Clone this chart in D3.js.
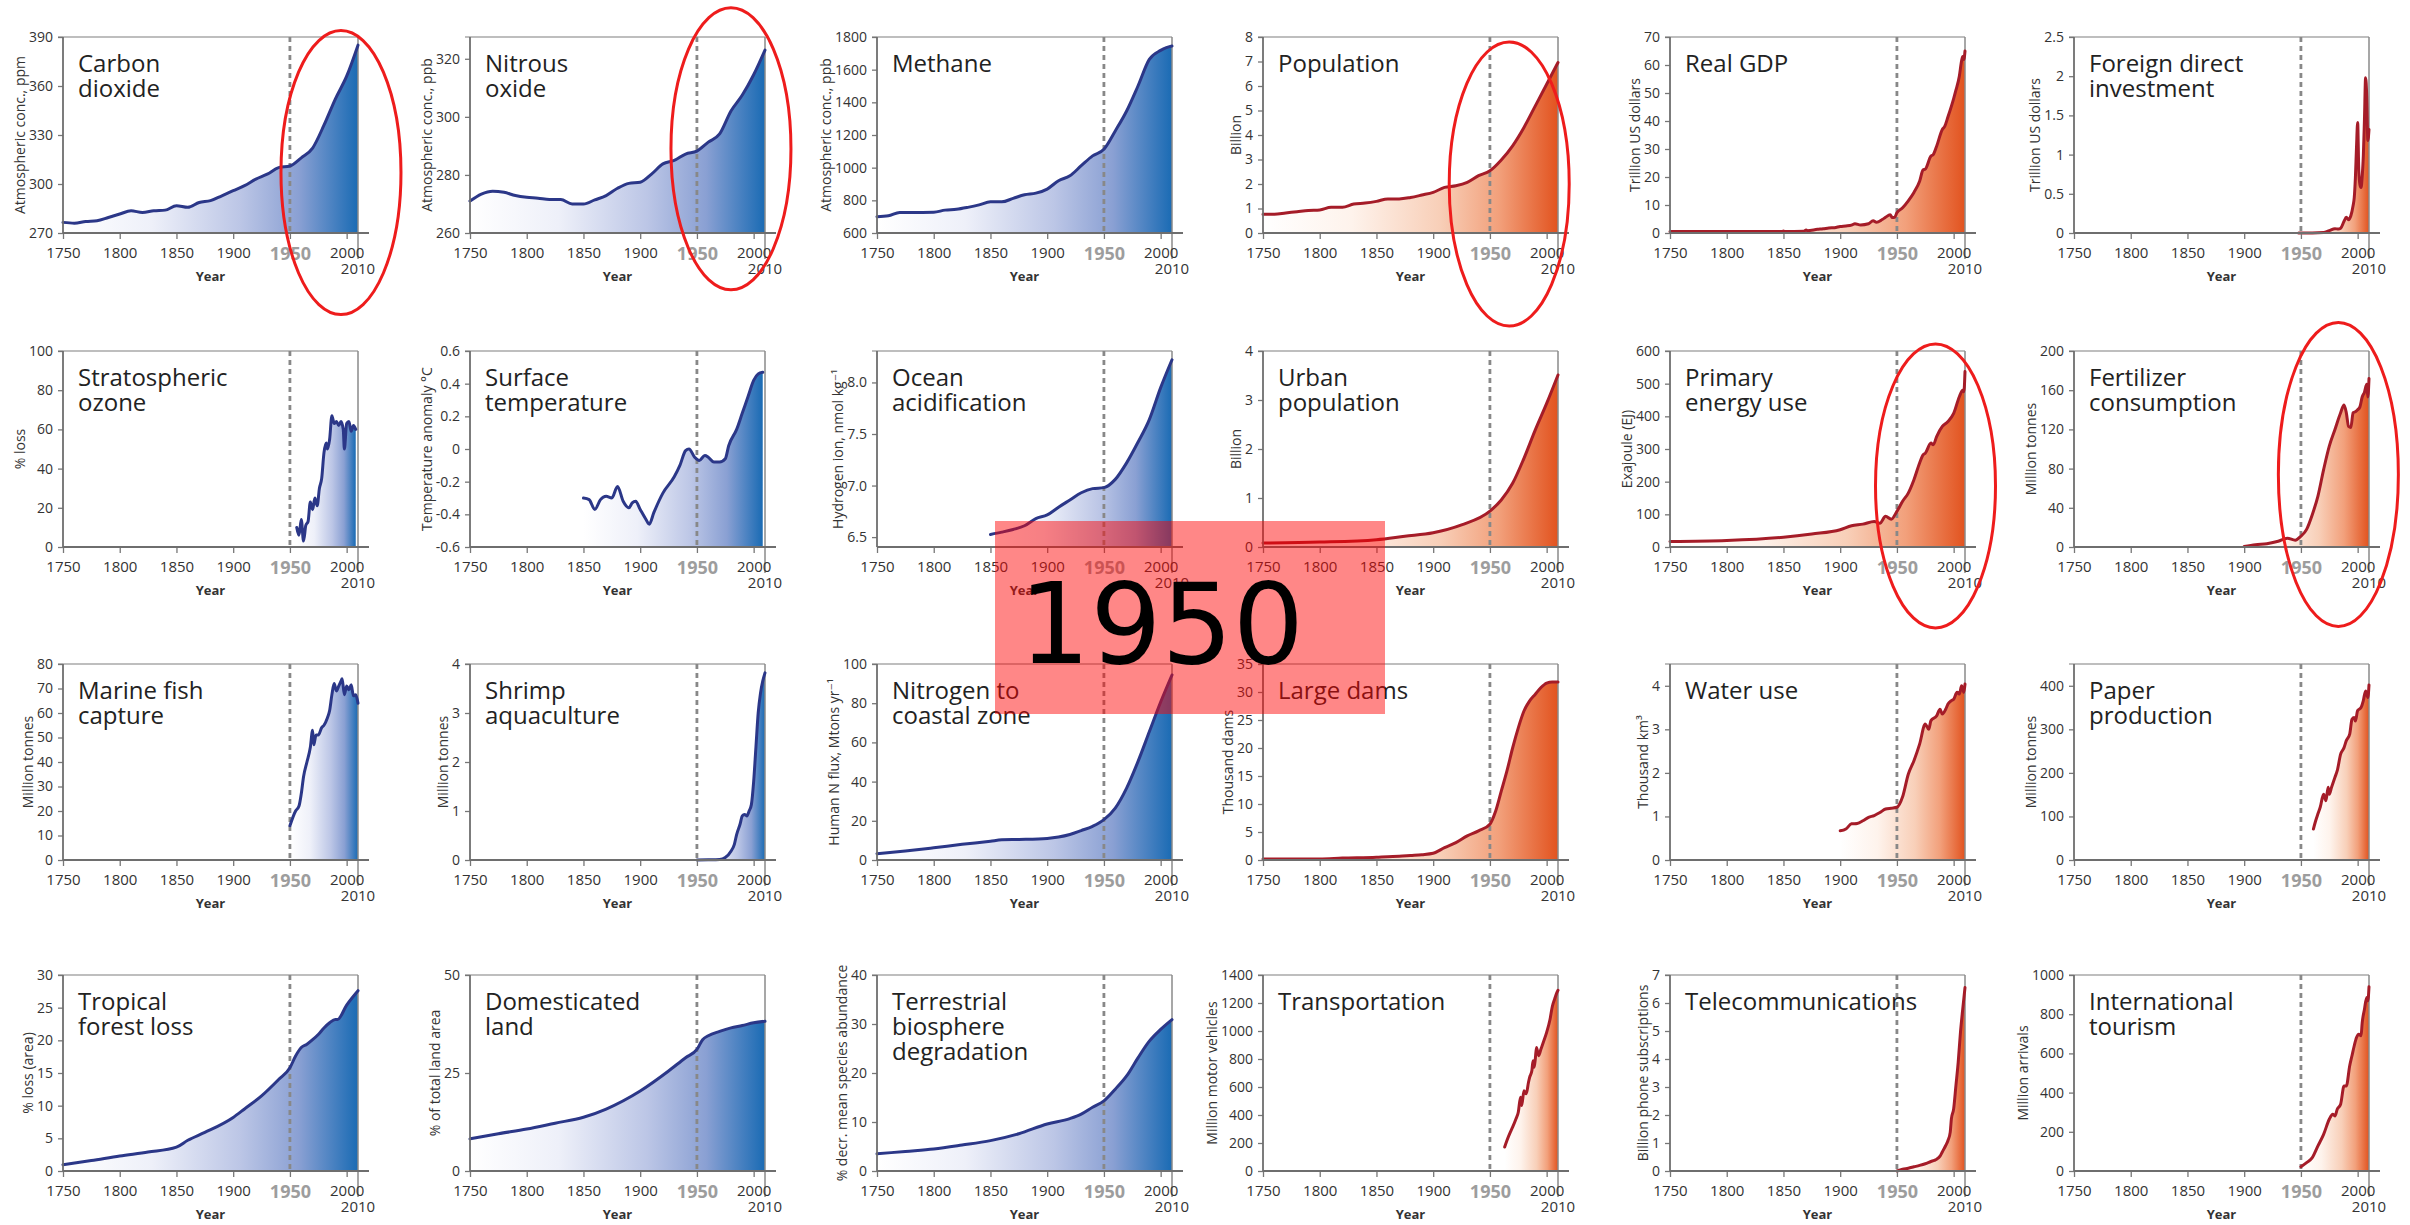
<!DOCTYPE html>
<html>
<head>
<meta charset="utf-8">
<script src="https://cdn.jsdelivr.net/npm/d3@7"></script>
<style>
  body { margin: 0; background: #fff; }
</style>
</head>
<body>
<div id="chart-area"></div>
<script>
// ---- data: [year, value] ----
const co2 = [[1750,276.5],[1760,276],[1770,277],[1780,277.5],[1790,279.5],[1800,281.6],[1810,283.6],[1820,282.6],[1830,283.6],[1840,284],[1850,286.7],[1860,285.7],[1870,288.7],[1880,289.8],[1890,292.8],[1900,295.9],[1910,299],[1920,303],[1930,306],[1940,310],[1950,311],[1960,316],[1970,322],[1980,336],[1990,352],[2000,366],[2010,385]];
const n2o = [[1750,271],[1760,273.4],[1770,274.4],[1780,274],[1790,272.9],[1800,272.3],[1810,272],[1820,271.5],[1830,271.5],[1840,270],[1850,270],[1860,271.4],[1870,272.9],[1880,275.4],[1890,277.1],[1900,277.5],[1910,280.3],[1920,283.8],[1930,285],[1940,287.2],[1950,288.2],[1960,291.3],[1970,294.1],[1980,302],[1990,307.5],[2000,314.5],[2010,323]];
const methane = [[1750,700],[1760,705],[1770,726],[1780,726],[1790,726],[1800,727],[1810,740],[1820,745],[1830,757],[1840,772],[1850,791],[1860,791],[1870,812],[1880,834],[1890,844],[1900,869],[1910,920],[1920,950],[1930,1012],[1940,1072],[1950,1113],[1960,1225],[1970,1347],[1980,1500],[1990,1663],[2000,1718],[2005,1735],[2010,1745]];
const population = [[1750,0.77],[1760,0.77],[1770,0.82],[1780,0.87],[1790,0.92],[1800,0.94],[1810,1.05],[1820,1.05],[1830,1.18],[1840,1.22],[1850,1.29],[1860,1.39],[1870,1.39],[1880,1.45],[1890,1.55],[1900,1.66],[1910,1.86],[1920,1.93],[1930,2.07],[1940,2.34],[1950,2.54],[1960,2.98],[1970,3.56],[1980,4.31],[1990,5.19],[2000,6.07],[2010,6.96]];
const gdp = [[1750,0.5],[1800,0.5],[1849,0.5],[1850,0.7],[1851,0.5],[1868,0.6],[1870,1.1],[1871,0.8],[1880,1.3],[1885,1.5],[1890,1.8],[1895,1.9],[1900,2.3],[1905,2.5],[1910,2.8],[1913,3.3],[1918,2.9],[1925,3.3],[1929,4.4],[1932,3.8],[1937,4.8],[1940,5.6],[1944,6.5],[1946,5.5],[1948,5.6],[1950,7.2],[1955,9.0],[1960,11.5],[1965,14.5],[1970,18.5],[1973,22.5],[1975,22.8],[1980,27.5],[1982,28],[1985,31],[1990,37],[1992,38],[1995,41.5],[2000,48],[2002,51],[2005,56],[2007,61.5],[2008,63],[2009,62],[2010,65]];
const fdi = [[1948,0],[1960,0],[1970,0.005],[1975,0.03],[1980,0.055],[1983,0.05],[1985,0.06],[1988,0.15],[1990,0.2],[1992,0.17],[1994,0.22],[1996,0.35],[1997,0.45],[1998,0.7],[1999,1.1],[2000,1.41],[2001,0.8],[2002,0.62],[2003,0.58],[2004,0.72],[2005,0.98],[2006,1.45],[2007,1.98],[2008,1.75],[2009,1.18],[2010,1.32]];
const ozone = [[1956,10],[1958,6],[1960,14],[1962,3],[1964,11],[1966,13],[1968,23],[1970,19],[1972,25],[1974,21],[1976,30],[1978,35],[1980,48],[1982,53],[1983,50],[1985,55],[1987,67],[1989,63],[1991,64],[1993,62],[1995,64],[1997,60],[1998,50],[2000,63],[2002,64],[2004,59],[2006,62],[2008,60]];
const temperature = [[1850,-0.30],[1855,-0.31],[1860,-0.37],[1865,-0.31],[1870,-0.29],[1875,-0.30],[1880,-0.23],[1885,-0.32],[1890,-0.36],[1893,-0.33],[1896,-0.32],[1900,-0.37],[1905,-0.43],[1908,-0.46],[1912,-0.39],[1920,-0.27],[1930,-0.17],[1935,-0.10],[1940,-0.01],[1943,0.0],[1948,-0.05],[1952,-0.07],[1957,-0.04],[1960,-0.05],[1965,-0.08],[1970,-0.08],[1975,-0.06],[1978,0.02],[1985,0.12],[1990,0.22],[1995,0.32],[2000,0.42],[2004,0.46],[2008,0.47]];
const ocean = [[1850,6.526],[1860,6.548],[1870,6.574],[1880,6.61],[1890,6.68],[1900,6.715],[1910,6.79],[1920,6.86],[1930,6.93],[1940,6.97],[1950,6.98],[1960,7.06],[1970,7.22],[1980,7.42],[1990,7.64],[2000,7.95],[2010,8.22]];
const urban = [[1750,0.08],[1800,0.1],[1850,0.15],[1875,0.22],[1900,0.29],[1925,0.45],[1950,0.73],[1960,0.96],[1970,1.3],[1980,1.81],[1990,2.39],[2000,2.93],[2010,3.51]];
const energy = [[1750,17],[1800,20],[1850,30],[1875,40],[1900,53],[1910,65],[1920,70],[1930,78],[1935,73],[1940,94],[1945,85],[1950,109],[1955,140],[1960,165],[1965,206],[1970,257],[1973,282],[1975,287],[1980,318],[1982,313],[1985,338],[1990,369],[1995,384],[2000,409],[2005,460],[2008,480],[2009,475],[2010,537]];
const fertilizer = [[1900,0.5],[1910,2.4],[1920,3.4],[1930,5.8],[1938,9],[1945,7],[1950,11],[1955,18],[1960,33],[1965,52],[1970,79],[1975,103],[1980,120],[1985,137],[1988,145],[1990,137],[1992,123],[1994,122],[1996,137],[1998,138],[2000,140],[2002,143],[2004,153],[2006,158],[2008,166],[2009,153],[2010,172]];
const fish = [[1950,14],[1955,20],[1958,22],[1960,27],[1962,34],[1965,40],[1968,46],[1970,53],[1971,47],[1973,51],[1975,51],[1978,54],[1980,55],[1983,58],[1985,61],[1987,67.5],[1989,72],[1991,69],[1993,71],[1995,73],[1996,74],[1998,67.5],[2000,71],[2002,69.5],[2004,71.5],[2006,67],[2008,67.5],[2010,64]];
const shrimp = [[1950,0],[1960,0.003],[1970,0.01],[1975,0.05],[1980,0.18],[1983,0.32],[1985,0.52],[1988,0.73],[1990,0.9],[1992,0.93],[1994,0.9],[1996,1.0],[1998,1.13],[2000,1.6],[2002,2.3],[2004,3.0],[2006,3.4],[2008,3.65],[2010,3.82]];
const nitrogen = [[1750,3.2],[1775,4.6],[1800,6.25],[1825,8],[1850,9.6],[1860,10.3],[1875,10.5],[1900,11],[1910,11.7],[1920,13],[1930,15],[1940,17.2],[1950,20.6],[1960,26.5],[1970,36.7],[1980,50.2],[1990,65.4],[2000,80.6],[2010,94.4]];
const dams = [[1750,0.2],[1800,0.2],[1820,0.35],[1850,0.5],[1860,0.6],[1870,0.65],[1880,0.8],[1890,0.95],[1900,1.2],[1910,2.2],[1920,3.1],[1930,4.3],[1940,5.2],[1950,6.4],[1955,8.7],[1960,12.3],[1965,15.9],[1970,20],[1975,23.6],[1980,26.6],[1985,28.4],[1990,29.6],[1995,30.8],[2000,31.6],[2005,31.8],[2010,31.8]];
const water = [[1900,0.67],[1905,0.71],[1910,0.83],[1915,0.84],[1920,0.9],[1925,0.98],[1930,1.02],[1935,1.09],[1940,1.17],[1945,1.19],[1950,1.21],[1955,1.45],[1960,1.97],[1965,2.28],[1970,2.66],[1975,3.12],[1978,3.0],[1980,3.2],[1985,3.31],[1988,3.46],[1990,3.35],[1993,3.46],[1995,3.58],[1998,3.66],[2000,3.69],[2003,3.85],[2005,3.81],[2007,4.0],[2009,3.85],[2010,4.04]];
const paper = [[1961,71],[1963,90],[1965,106],[1967,121],[1970,151],[1972,136],[1974,167],[1975,151],[1977,167],[1980,190],[1982,205],[1985,243],[1988,258],[1990,274],[1993,289],[1995,323],[1997,327],[1998,319],[2000,343],[2003,350],[2005,366],[2007,388],[2009,373],[2010,402]];
const forest = [[1750,0.96],[1775,1.6],[1800,2.3],[1825,2.9],[1850,3.65],[1860,4.7],[1875,5.9],[1900,8.2],[1910,9.5],[1925,11.5],[1940,14],[1950,15.8],[1955,17.6],[1960,18.9],[1965,19.4],[1970,20.1],[1975,20.9],[1980,21.9],[1985,22.7],[1990,23.2],[1992,23.2],[2000,25.4],[2010,27.6]];
const land = [[1750,8.2],[1775,9.5],[1800,10.7],[1825,12.2],[1850,13.7],[1870,15.8],[1900,20.4],[1925,25.5],[1940,28.9],[1950,31],[1955,33.5],[1960,34.5],[1970,35.6],[1980,36.5],[1990,37.1],[2000,37.8],[2010,38.2]];
const biosphere = [[1750,3.5],[1775,4.0],[1800,4.5],[1825,5.3],[1850,6.2],[1875,7.6],[1900,9.6],[1920,10.7],[1930,11.6],[1940,13],[1950,14.3],[1960,16.7],[1970,19.4],[1980,23.1],[1990,26.5],[2000,28.9],[2010,30.9]];
const vehicles = [[1963,171],[1965,218],[1968,278],[1970,313],[1973,373],[1975,420],[1977,527],[1978,467],[1980,574],[1982,551],[1984,634],[1985,669],[1987,717],[1988,788],[1989,741],[1990,800],[1991,883],[1993,824],[1995,871],[1997,918],[2000,990],[2003,1084],[2005,1175],[2007,1227],[2009,1274],[2010,1291]];
const phones = [[1950,0],[1955,0.06],[1960,0.1],[1965,0.15],[1970,0.2],[1975,0.26],[1980,0.34],[1983,0.38],[1985,0.42],[1988,0.53],[1990,0.68],[1993,0.91],[1995,1.09],[1997,1.39],[1998,1.86],[2000,2.22],[2002,3.05],[2004,3.88],[2006,4.95],[2008,5.78],[2010,6.55]];
const tourism = [[1950,22],[1955,43],[1960,68],[1965,128],[1970,187],[1975,264],[1978,290],[1980,281],[1982,315],[1985,341],[1988,434],[1990,434],[1993,537],[1995,588],[1997,639],[1999,681],[2001,698],[2003,690],[2004,756],[2006,825],[2008,885],[2009,869],[2010,940]];

// x tick labels (2010 is written under the axis)
const yearTicks = [1750, 1800, 1850, 1900, 1950, 2000];

// panels in reading order: series, title lines, y title, y domain, y ticks, colour
const panels = [
  {data: co2, title: ["Carbon", "dioxide"], unit: "Atmospheric conc., ppm", domain: [270, 390], ticks: [270, 300, 330, 360, 390], hue: "blue"},
  {data: n2o, title: ["Nitrous", "oxide"], unit: "Atmospheric conc., ppb", domain: [260, 327.5], ticks: [260, 280, 300, 320], hue: "blue"},
  {data: methane, title: ["Methane"], unit: "Atmospheric conc., ppb", domain: [600, 1800], ticks: [600, 800, 1000, 1200, 1400, 1600, 1800], hue: "blue"},
  {data: population, title: ["Population"], unit: "Billion", domain: [0, 8], ticks: [0, 1, 2, 3, 4, 5, 6, 7, 8], hue: "red"},
  {data: gdp, title: ["Real GDP"], unit: "Trillion US dollars", domain: [0, 70], ticks: [0, 10, 20, 30, 40, 50, 60, 70], hue: "red"},
  {data: fdi, title: ["Foreign direct", "investment"], unit: "Trillion US dollars", domain: [0, 2.5], ticks: [0, 0.5, 1, 1.5, 2, 2.5], hue: "red"},
  {data: ozone, title: ["Stratospheric", "ozone"], unit: "% loss", domain: [0, 100], ticks: [0, 20, 40, 60, 80, 100], hue: "blue"},
  {data: temperature, title: ["Surface", "temperature"], unit: "Temperature anomaly °C", domain: [-0.6, 0.6], ticks: [-0.6, -0.4, -0.2, 0, 0.2, 0.4, 0.6], hue: "blue"},
  {data: ocean, title: ["Ocean", "acidification"], unit: "Hydrogen ion, nmol kg⁻¹", domain: [6.404, 8.305], ticks: [6.5, 7.0, 7.5, 8.0], fmt: ".1f", hue: "blue"},
  {data: urban, title: ["Urban", "population"], unit: "Billion", domain: [0, 4], ticks: [0, 1, 2, 3, 4], hue: "red"},
  {data: energy, title: ["Primary", "energy use"], unit: "Exajoule (EJ)", domain: [0, 600], ticks: [0, 100, 200, 300, 400, 500, 600], hue: "red"},
  {data: fertilizer, title: ["Fertilizer", "consumption"], unit: "Million tonnes", domain: [0, 200], ticks: [0, 40, 80, 120, 160, 200], hue: "red"},
  {data: fish, title: ["Marine fish", "capture"], unit: "Million tonnes", domain: [0, 80], ticks: [0, 10, 20, 30, 40, 50, 60, 70, 80], hue: "blue"},
  {data: shrimp, title: ["Shrimp", "aquaculture"], unit: "Million tonnes", domain: [0, 4], ticks: [0, 1, 2, 3, 4], hue: "blue"},
  {data: nitrogen, title: ["Nitrogen to", "coastal zone"], unit: "Human N flux, Mtons yr⁻¹", domain: [0, 100], ticks: [0, 20, 40, 60, 80, 100], hue: "blue"},
  {data: dams, title: ["Large dams"], unit: "Thousand dams", domain: [0, 35], ticks: [0, 5, 10, 15, 20, 25, 30, 35], hue: "red"},
  {data: water, title: ["Water use"], unit: "Thousand km³", domain: [0, 4.5], ticks: [0, 1, 2, 3, 4], hue: "red"},
  {data: paper, title: ["Paper", "production"], unit: "Million tonnes", domain: [0, 450], ticks: [0, 100, 200, 300, 400], hue: "red"},
  {data: forest, title: ["Tropical", "forest loss"], unit: "% loss (area)", domain: [0, 30], ticks: [0, 5, 10, 15, 20, 25, 30], hue: "blue"},
  {data: land, title: ["Domesticated", "land"], unit: "% of total land area", domain: [0, 50], ticks: [0, 25, 50], hue: "blue"},
  {data: biosphere, title: ["Terrestrial", "biosphere", "degradation"], unit: "% decr. mean species abundance", domain: [0, 40], ticks: [0, 10, 20, 30, 40], hue: "blue"},
  {data: vehicles, title: ["Transportation"], unit: "Million motor vehicles", domain: [0, 1400], ticks: [0, 200, 400, 600, 800, 1000, 1200, 1400], hue: "red"},
  {data: phones, title: ["Telecommunications"], unit: "Billion phone subscriptions", domain: [0, 7], ticks: [0, 1, 2, 3, 4, 5, 6, 7], hue: "red"},
  {data: tourism, title: ["International", "tourism"], unit: "Million arrivals", domain: [0, 1000], ticks: [0, 200, 400, 600, 800, 1000], hue: "red"}
];

// red circled panels: panel index, centre year and centre value
const highlights = [
  {panel: 0, year: 1995, value: 307, ry: 142},
  {panel: 1, year: 1980, value: 289, ry: 141},
  {panel: 3, year: 1967, value: 2.0, ry: 142},
  {panel: 10, year: 1984, value: 187, ry: 142},
  {panel: 11, year: 1983, value: 74, ry: 152}
];

// ---- layout ----
const svgWidth = 2410, svgHeight = 1225;
const colLeft = [63, 470, 877, 1263, 1670, 2074];
const rowTop = [37, 351, 664, 975];
const plotW = 295, plotH = 196;
const font = "'Open Sans', 'DejaVu Sans', sans-serif";

const hues = {
  blue: {line: "#2b3788", stops: [[0, "#ffffff"], [0.3, "#eef0f9"], [0.6, "#bcc6e6"], [0.8, "#8aa0d3"], [1, "#1a6bb4"]]},
  red: {line: "#a51c28", stops: [[0, "#ffffff"], [0.3, "#fef3ec"], [0.6, "#f8cfb8"], [0.8, "#f2a07b"], [1, "#e2531f"]]}
};

const canvas = d3.select("#chart-area")
  .append("svg")
    .attr("width", svgWidth)
    .attr("height", svgHeight);

canvas.append("rect")
  .attr("width", svgWidth)
  .attr("height", svgHeight)
  .attr("fill", "#fff");

const defs = canvas.append("defs");
Object.entries(hues).forEach(([name, h]) => {
  const grad = defs.append("linearGradient")
    .attr("id", `grad-${name}`)
    .attr("x1", 0).attr("x2", 1).attr("y1", 0).attr("y2", 0);
  h.stops.forEach(s => grad.append("stop").attr("offset", s[0]).attr("stop-color", s[1]));
});

const x = d3.scaleLinear().domain([1750, 2010]).range([0, plotW]);
const scales = [];

panels.forEach((p, i) => {
  const col = i % 6, row = Math.floor(i / 6);
  const chart = canvas.append("g")
    .attr("transform", `translate(${colLeft[col]},${rowTop[row]})`);
  const y = d3.scaleLinear().domain(p.domain).range([plotH, 0]);
  scales.push({y, col, row});
  const hue = hues[p.hue];

  // area + gradient
  const area = d3.area()
    .x(d => x(d[0]))
    .y0(plotH)
    .y1(d => y(d[1]))
    .curve(d3.curveMonotoneX);
  chart.append("path")
    .datum(p.data)
    .attr("fill", `url(#grad-${p.hue})`)
    .attr("d", area);

  // frame: top + right light, left + bottom darker
  chart.append("line")
    .attr("x1", -5).attr("x2", plotW)
    .attr("y1", 0).attr("y2", 0)
    .attr("stroke", "#a8a8a8").attr("stroke-width", 1.5);
  chart.append("line")
    .attr("x1", plotW).attr("x2", plotW)
    .attr("y1", 0).attr("y2", plotH + 26)
    .attr("stroke", "#8a8a8a").attr("stroke-width", 1.5);

  // 1950 marker
  chart.append("line")
    .attr("x1", x(1950)).attr("x2", x(1950))
    .attr("y1", 0).attr("y2", plotH)
    .attr("stroke", "#888")
    .attr("stroke-width", 2.8)
    .attr("stroke-dasharray", "5,4");

  // series line
  const line = d3.line()
    .x(d => x(d[0]))
    .y(d => y(d[1]))
    .curve(d3.curveMonotoneX);
  chart.append("path")
    .datum(p.data)
    .attr("fill", "none")
    .attr("stroke", hue.line)
    .attr("stroke-width", 3)
    .attr("stroke-linejoin", "round")
    .attr("stroke-linecap", "round")
    .attr("d", line);

  // y axis
  const yAxisCall = d3.axisLeft(y)
    .tickValues(p.ticks)
    .tickFormat(p.fmt ? d3.format(p.fmt) : d => String(d))
    .tickSizeInner(5)
    .tickSizeOuter(0)
    .tickPadding(5);
  const yAxis = chart.append("g").call(yAxisCall);
  yAxis.select(".domain").remove();
  yAxis.selectAll("line").attr("stroke", "#777").attr("stroke-width", 1.3);
  yAxis.selectAll("text")
    .attr("fill", "#333")
    .attr("font-family", font)
    .attr("font-size", 14);
  chart.append("line")
    .attr("x1", 0).attr("x2", 0)
    .attr("y1", 0).attr("y2", plotH)
    .attr("stroke", "#6e6e6e").attr("stroke-width", 1.8);
  const yAxisWidth = yAxis.node().getBBox().width;

  // x axis
  const xAxisCall = d3.axisBottom(x)
    .tickValues(yearTicks)
    .tickFormat(d3.format("d"))
    .tickSizeInner(6)
    .tickSizeOuter(0)
    .tickPadding(8);
  const xAxis = chart.append("g")
    .attr("transform", `translate(0,${plotH})`)
    .call(xAxisCall);
  xAxis.select(".domain").remove();
  xAxis.selectAll("line").attr("stroke", "#777").attr("stroke-width", 1.3);
  xAxis.selectAll("text")
    .attr("fill", "#333")
    .attr("font-family", font)
    .attr("font-size", 15);
  xAxis.selectAll(".tick")
    .filter(d => d === 1950)
    .select("text")
      .attr("fill", "#9d9d9d")
      .attr("font-weight", 700)
      .attr("font-size", 18);
  chart.append("line")
    .attr("x1", 0).attr("x2", plotW + 11)
    .attr("y1", plotH).attr("y2", plotH)
    .attr("stroke", "#6e6e6e").attr("stroke-width", 1.8);

  chart.append("text")
    .text("2010")
    .attr("x", x(2010))
    .attr("y", plotH + 41)
    .attr("text-anchor", "middle")
    .attr("fill", "#333")
    .attr("font-family", font)
    .attr("font-size", 15);

  chart.append("text")
    .text("Year")
    .attr("x", plotW / 2)
    .attr("y", plotH + 48)
    .attr("text-anchor", "middle")
    .attr("fill", "#333")
    .attr("font-family", font)
    .attr("font-weight", 700)
    .attr("font-size", 13);

  // y title, placed just left of the tick labels
  chart.append("text")
    .text(p.unit)
    .attr("transform", `translate(${-yAxisWidth - 4},${plotH / 2}) rotate(-90)`)
    .attr("text-anchor", "middle")
    .attr("fill", "#333")
    .attr("font-family", font)
    .attr("font-size", 14);

  // panel title
  const title = chart.append("text")
    .attr("x", 15)
    .attr("y", 35)
    .attr("fill", "#222")
    .attr("font-family", font)
    .attr("font-size", 24);
  p.title.forEach((t, k) => {
    title.append("tspan")
      .text(t)
      .attr("x", 15)
      .attr("dy", k === 0 ? 0 : 25);
  });
});

// red ellipses
highlights.forEach(h => {
  const s = scales[h.panel];
  canvas.append("ellipse")
    .attr("cx", colLeft[s.col] + x(h.year))
    .attr("cy", rowTop[s.row] + s.y(h.value))
    .attr("rx", 60)
    .attr("ry", h.ry)
    .attr("fill", "none")
    .attr("stroke", "#ee1c1c")
    .attr("stroke-width", 3);
});

// 1950 overlay label
canvas.append("rect")
  .attr("x", 995)
  .attr("y", 521)
  .attr("width", 390)
  .attr("height", 193)
  .attr("fill", "rgba(255,0,0,0.47)");
canvas.append("text")
  .text("1950")
  .attr("x", 1019)
  .attr("y", 663)
  .attr("fill", "#000")
  .attr("font-family", "'DejaVu Sans', sans-serif")
  .attr("font-size", 112);
</script>
</body>
</html>
